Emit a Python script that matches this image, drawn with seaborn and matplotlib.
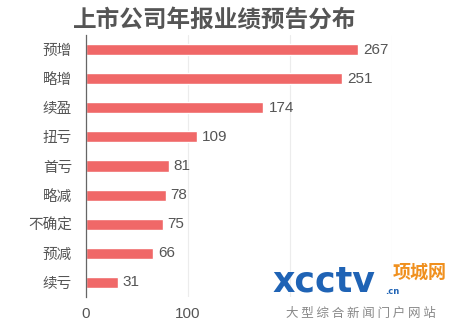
import matplotlib
matplotlib.use("Agg")
import matplotlib.pyplot as plt
import seaborn as sns
import pandas as pd

categories = ["预增", "略增", "续盈", "扭亏", "首亏", "略减", "不确定", "预减", "续亏"]
values = [267, 251, 174, 109, 81, 78, 75, 66, 31]
x_ticks = [0, 100, 200, 300]
x_tick_labels = ["0", "100", "", ""]
title = "上市公司年报业绩预告分布"

sns.set_theme(style="white")
plt.rcParams['font.family'] = ['Noto Sans CJK SC', 'DejaVu Sans']

df = pd.DataFrame({"cat": categories, "val": values})

fig = plt.figure(figsize=(4.55, 3.27), dpi=100)
fig.patch.set_facecolor("white")
ax = fig.add_axes([86/455, 1-297/327, (392-86)/455, (297-35)/327])

sns.barplot(data=df, x="val", y="cat", orient="h", color="#f06868",
            width=0.38, saturation=1, ax=ax, zorder=3)

ax.set_xlim(0, 300)
ax.set_ylim(len(categories)-0.5, -0.5)
ax.set_xticks(x_ticks)
ax.set_xticklabels(x_tick_labels)
ax.xaxis.grid(True, color="#ececec", linewidth=0.8, zorder=0)
ax.set_xlabel("")
ax.set_ylabel("")

for s in ["top", "right", "bottom"]:
    ax.spines[s].set_visible(False)
ax.spines["left"].set_color("#666666")
ax.spines["left"].set_linewidth(0.9)
ax.spines["left"].set_zorder(5)

ax.tick_params(axis="y", length=0, pad=10, labelsize=10.5, labelcolor="#555555")
ax.set_yticks([i - 0.5 for i in range(len(categories)+1)], minor=True)
ax.tick_params(axis="y", which="minor", length=4, width=0.9, color="#666666", direction="out")
ax.tick_params(axis="x", length=0, pad=7, labelsize=11, labelcolor="#555555")

for i, v in enumerate(values):
    ax.text(v + 5, i, str(v), va="center", ha="left", fontsize=11, color="#555555",
            family=['Liberation Sans', 'DejaVu Sans'])

for lab in ax.get_xticklabels():
    lab.set_family(['Liberation Sans', 'DejaVu Sans'])

fig.text(215/455, 1-20/327, title, ha="center", va="center", fontsize=17,
         fontweight="bold", color="#555555")

# watermark
fig.text(272/455, 1-281/327, "xcctv", ha="left", va="center", fontsize=25,
         fontweight="bold", color="#1f63b5", family=['DejaVu Sans'])
fig.text(385/455, 1-291/327, ".cn", ha="left", va="center", fontsize=6,
         fontweight="bold", color="#1f63b5", family=['DejaVu Sans'])
fig.text(420/455, 1-272/327, "项城网", ha="center", va="center", fontsize=13,
         fontweight="bold", color="#f0901e")
fig.text(361/455, 1-313/327, "大 型 综 合 新 闻 门 户 网 站", ha="center", va="center",
         fontsize=9, color="#888888")

fig.savefig("out.png", dpi=100, facecolor="white")
